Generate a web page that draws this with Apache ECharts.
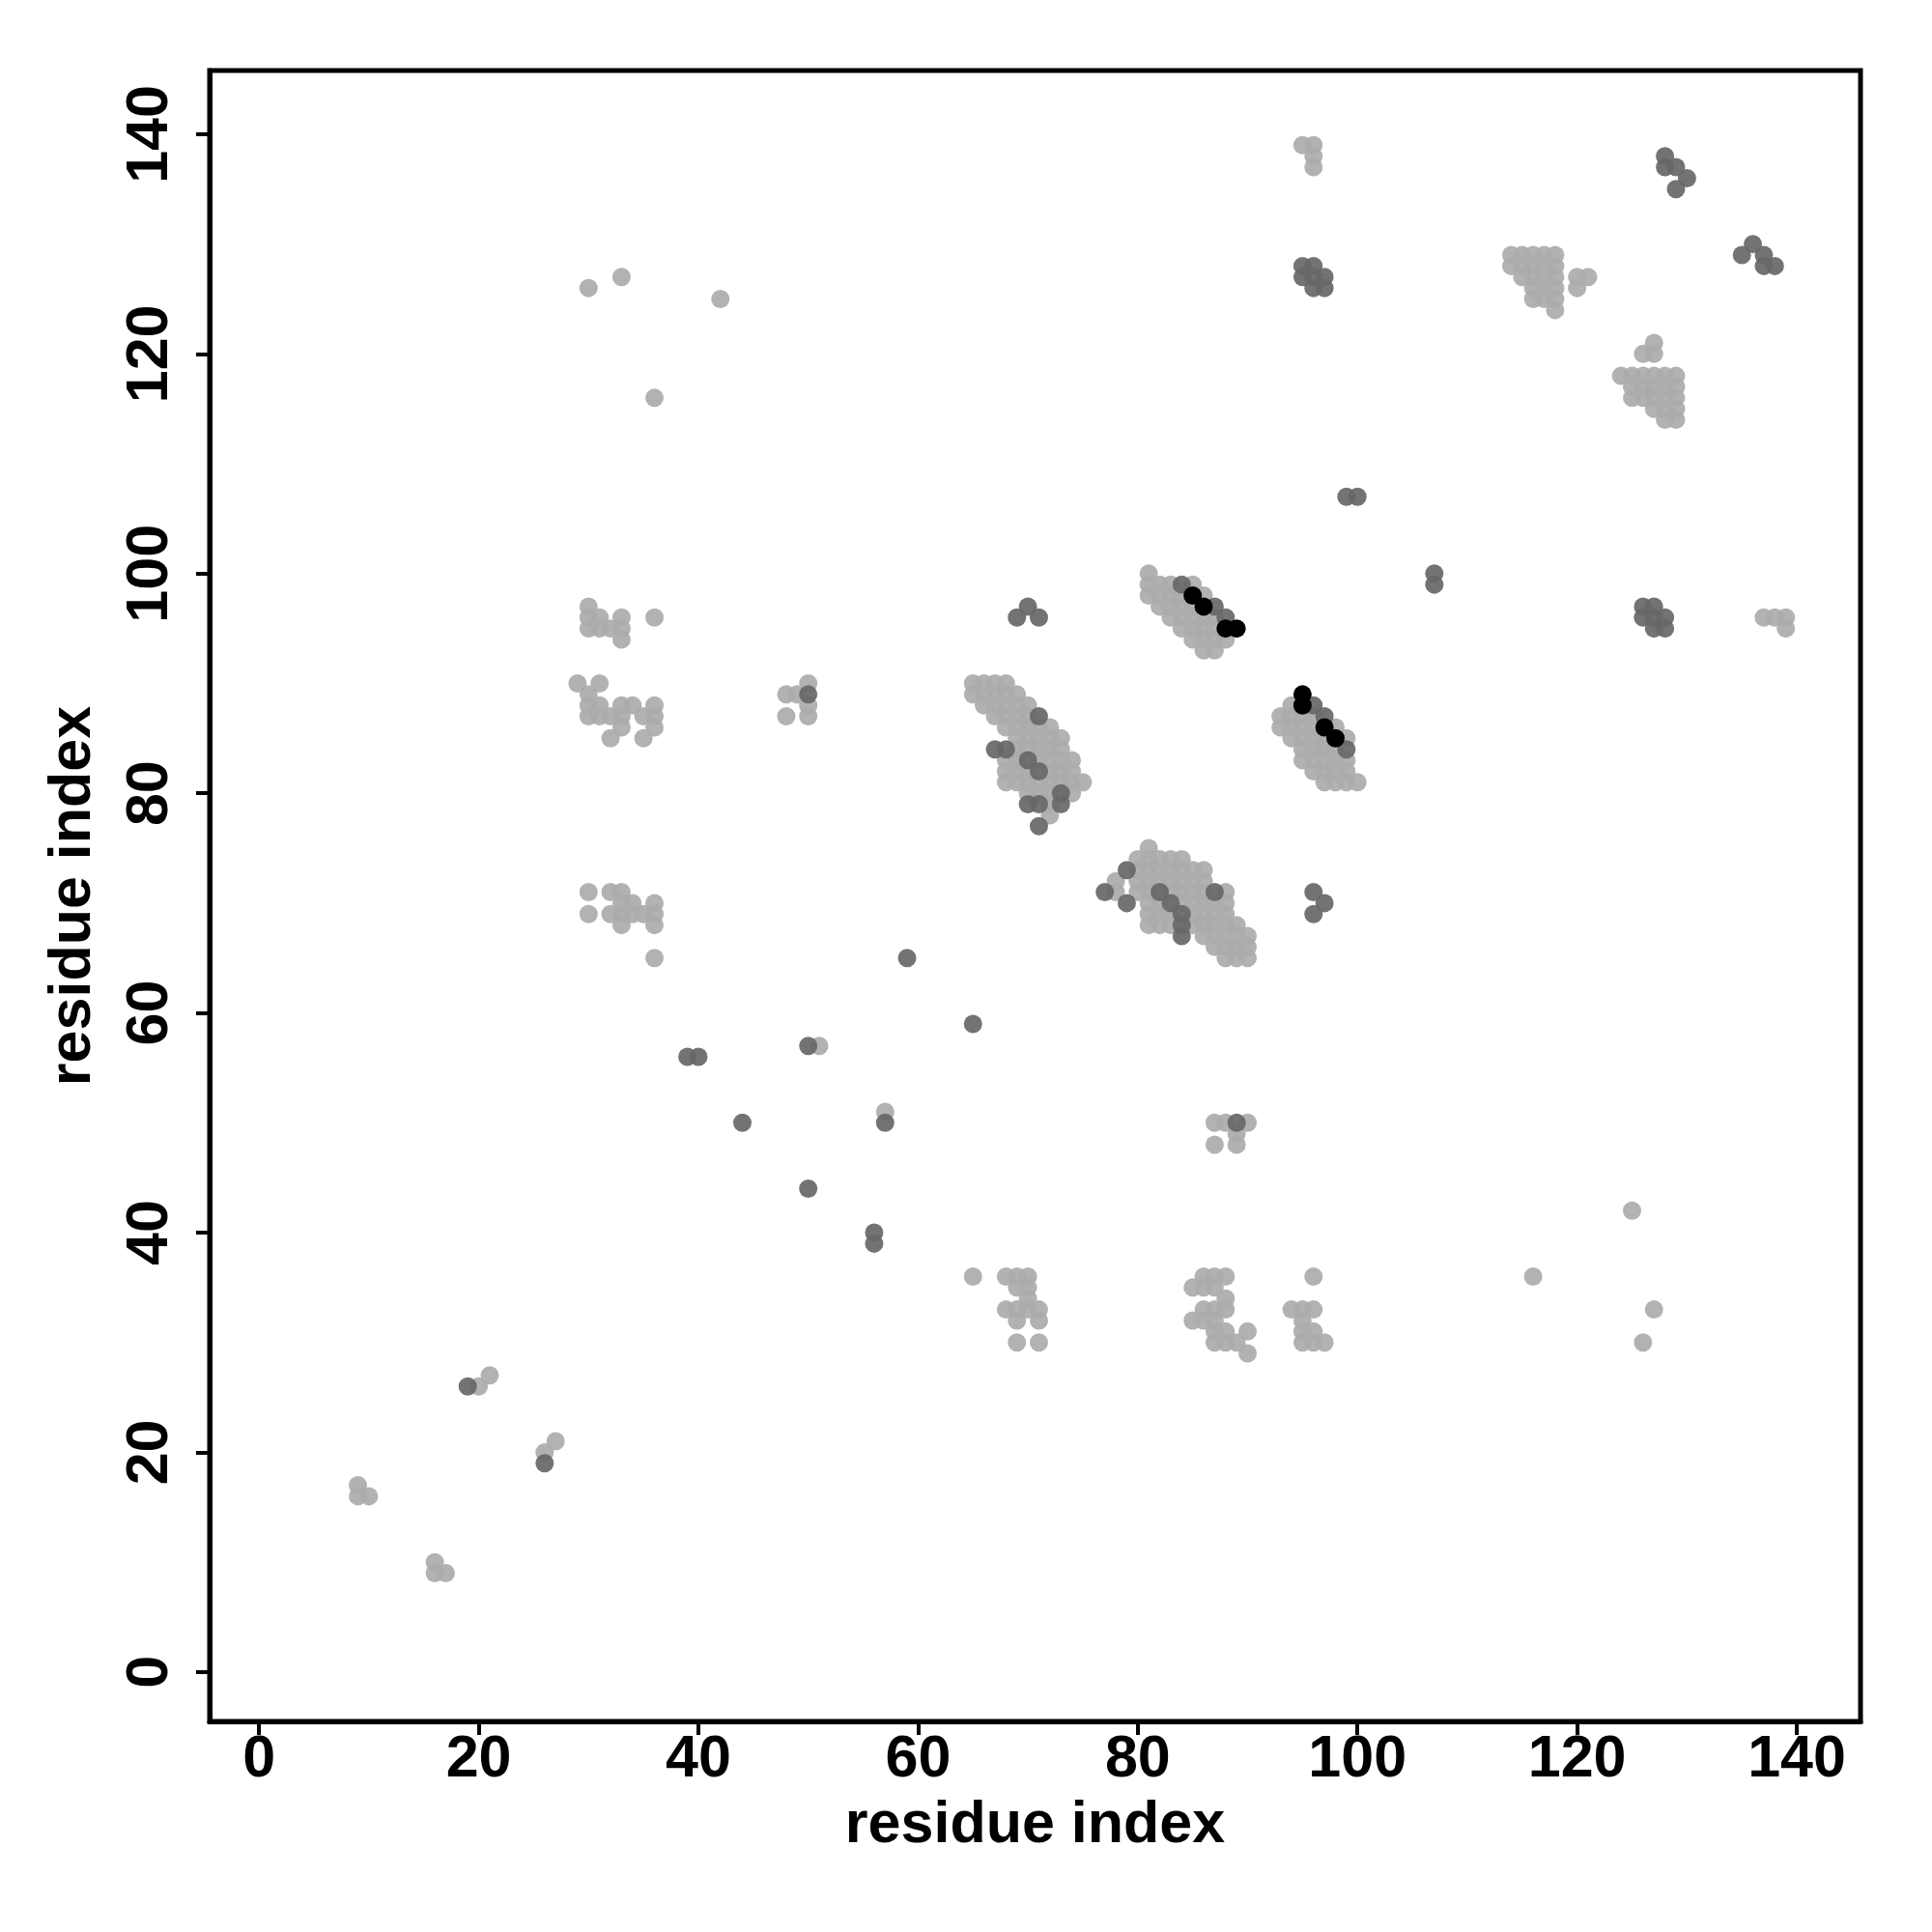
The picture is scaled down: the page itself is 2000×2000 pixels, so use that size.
<!DOCTYPE html>
<html>
<head>
<meta charset="utf-8">
<script src="https://cdn.jsdelivr.net/npm/echarts@6/dist/echarts.min.js"></script>
<style>html,body{margin:0;padding:0;background:#fff}#c{width:2000px;height:2000px}</style>
</head>
<body>
<div id="c"></div>
<script>
// tick labels
var tickValues = [0, 20, 40, 60, 80, 100, 120, 140];
var axisTitle = 'residue index';

// light grey contacts
var lightDiag = [[9,17],[9,16],[10,16],[16,10],[16,9],[17,9],[20,26],[21,27],[26,20],[27,21],[51,57],[57,51]];
var lightTopLeft = [[30,126],[33,127],[42,125],[36,116]];
var lightA = [
  [30,97],[30,96],[30,95],[31,96],[31,95],[32,95],[33,96],[33,95],[33,94],[36,96],
  [29,90],[31,90],[30,89],[30,88],[31,88],[33,88],[34,88],[36,88],[30,87],[31,87],[32,87],[33,87],[35,87],[36,87],[33,86],[36,86],[32,85],[35,85],
  [30,71],[32,71],[33,71],[33,70],[34,70],[36,70],[30,69],[32,69],[33,69],[34,69],[35,69],[36,69],[33,68],[36,68],[36,65]
];
var lightB = [[48,89],[49,89],[50,90],[50,88],[48,87],[50,87],[87,50],[88,50],[90,50],[87,48],[89,48],[89,49]];
var lightC = [
  [65,90],[66,90],[67,90],[68,90],
  [65,89],[66,89],[67,89],[68,89],[69,89],
  [66,88],[67,88],[68,88],[69,88],[70,88],
  [67,87],[68,87],[69,87],[70,87],
  [68,86],[69,86],[70,86],[71,86],[72,86],
  [69,85],[70,85],[71,85],[72,85],[73,85],
  [69,84],[70,84],[71,84],[72,84],[73,84],
  [68,83],[69,83],[71,83],[72,83],[73,83],[74,83],
  [68,82],[69,82],[70,82],[72,82],[73,82],[74,82],
  [68,81],[69,81],[70,81],[71,81],[72,81],[73,81],[74,81],[75,81],
  [70,80],[71,80],[72,80],[74,80],
  [72,79],[72,78]
];
var lightD = [
  [81,75],
  [80,74],[81,74],[82,74],[83,74],[84,74],
  [80,73],[81,73],[82,73],[83,73],[84,73],[85,73],[86,73],
  [78,72],[80,72],[81,72],[82,72],[83,72],[84,72],[85,72],[86,72],
  [78,71],[80,71],[81,71],[83,71],[84,71],[85,71],[86,71],[88,71],
  [81,70],[82,70],[84,70],[85,70],[86,70],[87,70],[88,70],
  [81,69],[82,69],[83,69],[85,69],[86,69],[87,69],[88,69],
  [81,68],[82,68],[83,68],[85,68],[86,68],[87,68],[88,68],[89,68],
  [86,67],[87,67],[88,67],[89,67],[90,67],
  [87,66],[88,66],[89,66],[90,66],
  [88,65],[89,65],[90,65]
];
var lightE = [
  [81,100],
  [81,99],[82,99],[83,99],[85,99],
  [81,98],[82,98],[83,98],[84,98],[86,98],
  [82,97],[83,97],[84,97],[85,97],
  [83,96],[84,96],[85,96],[86,96],[87,96],
  [84,95],[85,95],[86,95],[87,95],
  [85,94],[86,94],[87,94],[88,94],
  [86,93],[87,93]
];
var lightF = [
  [94,88],
  [93,87],[94,87],[95,87],[96,87],
  [93,86],[94,86],[95,86],[96,86],[98,86],
  [94,85],[95,85],[96,85],[97,85],[99,85],
  [95,84],[96,84],[97,84],[98,84],
  [95,83],[96,83],[97,83],[98,83],[99,83],
  [96,82],[97,82],[98,82],[99,82],
  [97,81],[98,81],[99,81],[100,81]
];
var lightG = [
  [65,36],[68,36],[69,36],[70,36],[69,35],[70,35],[70,34],[68,33],[69,33],[70,33],[71,33],[69,32],[71,32],[69,30],[71,30],
  [86,36],[87,36],[88,36],[85,35],[86,35],[87,35],[88,34],[86,33],[87,33],[88,33],[85,32],[86,32],[87,32],[87,31],[88,31],[90,31],[87,30],[88,30],[89,30],[90,29],
  [96,36],[94,33],[95,33],[96,33],[95,32],[95,31],[96,31],[95,30],[96,30],[97,30],
  [116,36],[125,42],[127,33],[126,30]
];
var lightH = [
  [95,139],[96,139],[96,138],[96,137],
  [114,129],[115,129],[116,129],[117,129],[118,129],
  [114,128],[115,128],[116,128],[117,128],[118,128],
  [115,127],[116,127],[117,127],[118,127],
  [116,126],[117,126],[118,126],
  [116,125],[117,125],[118,125],
  [118,124],
  [120,127],[121,127],[120,126],
  [127,121],[126,120],[127,120],
  [124,118],[125,118],[126,118],[127,118],[128,118],[129,118],
  [125,117],[126,117],[127,117],[128,117],[129,117],
  [125,116],[126,116],[127,116],[128,116],[129,116],
  [127,115],[128,115],[129,115],
  [128,114],[129,114],
  [137,96],[138,96],[139,96],[139,95]
];

// dark grey contacts
var darkPoints = [
  [19,26],[26,19],[39,56],[40,56],[44,50],[50,57],[50,44],[56,40],[56,39],[57,50],[59,65],[65,59],
  [50,89],[89,50],[69,96],[70,97],[71,96],
  [71,87],[67,84],[68,84],[70,83],[71,82],[70,79],[71,79],[73,80],[73,79],[71,77],
  [79,73],[77,71],[79,70],[87,71],[82,71],[83,70],[84,69],[84,68],[84,67],
  [84,99],[87,97],[88,96],
  [96,88],[97,87],[99,84],
  [95,128],[96,128],[95,127],[96,127],[97,127],[96,126],[97,126],
  [128,138],[128,137],[129,137],[130,136],[129,135],
  [136,130],[135,129],[137,129],[137,128],[138,128],
  [99,107],[100,107],[107,100],[107,99],
  [126,97],[127,97],[126,96],[127,96],[128,96],[127,95],[128,95],
  [96,71],[97,70],[96,69]
];

// black contacts
var blackPoints = [[85,98],[86,97],[88,95],[89,95],[95,89],[95,88],[97,86],[98,85]];

var lightPoints = [].concat(lightDiag, lightTopLeft, lightA, lightB, lightC, lightD, lightE, lightF, lightG, lightH);

var FONT = '"Liberation Sans", Arial, Helvetica, sans-serif';
var chart = echarts.init(document.getElementById('c'), null, {renderer: 'canvas'});
chart.setOption({
  animation: false,
  backgroundColor: '#ffffff',
  grid: {left: 217, right: 74, top: 73, bottom: 218, show: true, borderColor: '#000', borderWidth: 5, backgroundColor: 'transparent'},
  xAxis: {
    type: 'value', min: -4.5, max: 145.8,
    name: axisTitle, nameLocation: 'middle', nameGap: 78,
    nameTextStyle: {fontFamily: FONT, fontWeight: 'bold', fontSize: 61, color: '#000'},
    splitLine: {show: false},
    axisLine: {show: true, onZero: false, lineStyle: {color: '#000', width: 5}},
    axisTick: {show: true, length: 14, lineStyle: {color: '#000', width: 4}, customValues: tickValues},
    axisLabel: {customValues: tickValues, margin: 10, fontFamily: FONT, fontWeight: 'bold', fontSize: 61, color: '#000'}
  },
  yAxis: {
    type: 'value', min: -4.5, max: 145.8,
    name: axisTitle, nameLocation: 'middle', nameGap: 110,
    nameTextStyle: {fontFamily: FONT, fontWeight: 'bold', fontSize: 61, color: '#000'},
    splitLine: {show: false},
    axisLine: {show: true, onZero: false, lineStyle: {color: '#000', width: 5}},
    axisTick: {show: true, length: 14, lineStyle: {color: '#000', width: 4}, customValues: tickValues},
    axisLabel: {customValues: tickValues, rotate: 90, margin: 30, fontFamily: FONT, fontWeight: 'bold', fontSize: 61, color: '#000'}
  },
  series: [
    {type: 'scatter', data: lightPoints, symbol: 'circle', symbolSize: 19, itemStyle: {color: '#ababab', opacity: 0.92}, z: 2},
    {type: 'scatter', data: darkPoints, symbol: 'circle', symbolSize: 19, itemStyle: {color: '#676767', opacity: 0.92}, z: 3},
    {type: 'scatter', data: blackPoints, symbol: 'circle', symbolSize: 19, itemStyle: {color: '#000000', opacity: 1}, z: 4}
  ]
});
</script>
</body>
</html>
